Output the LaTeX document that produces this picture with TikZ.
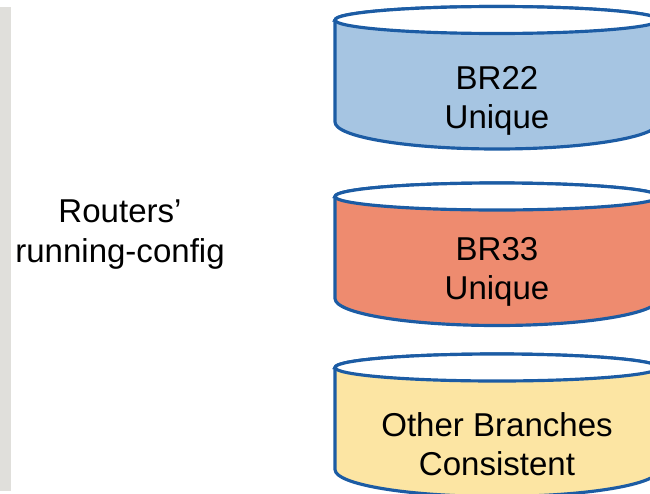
\documentclass[tikz,border=0pt]{standalone}
\usepackage{fontspec}
\setmainfont{Liberation Sans}
\definecolor{cylline}{RGB}{28,92,164}
\definecolor{brblue}{RGB}{166,197,226}
\definecolor{brred}{RGB}{238,139,111}
\definecolor{bryellow}{RGB}{252,229,163}
\definecolor{stripgray}{RGB}{224,223,219}
\begin{document}
\begin{tikzpicture}[
  cyl/.style={draw=cylline,line width=1.8pt},
  lbl/.style={align=center,font=\fontsize{18.8}{22.5}\selectfont}]
  \useasboundingbox (0,0) rectangle (13,9.86);
  % gray strip on the left edge
  \fill[stripgray] (0,0.04) rectangle (0.22,9.72);
  \node[lbl] (rc) at (2.4,5.17) {Routers’\\running-config};
  % the three cylinders
  \foreach \top/\col in {9.46/brblue,5.93/brred,2.51/bryellow}{
    \filldraw[cyl,fill=\col] (6.70,\top) -- ++(0,-2.04)
      arc[start angle=180,end angle=360,x radius=3.24,y radius=0.54]
      -- (13.18,\top)
      arc[start angle=0,end angle=180,x radius=3.24,y radius=0.27] -- cycle;
    \filldraw[cyl,fill=white] (9.94,\top) ellipse[x radius=3.24,y radius=0.27];
  }
  \node[lbl] (br22) at (9.94,7.84) {BR22\\Unique};
  \node[lbl] (br33) at (9.94,4.42) {BR33\\Unique};
  \node[lbl] (other) at (9.94,0.98) {Other Branches\\Consistent};
\end{tikzpicture}
\end{document}
